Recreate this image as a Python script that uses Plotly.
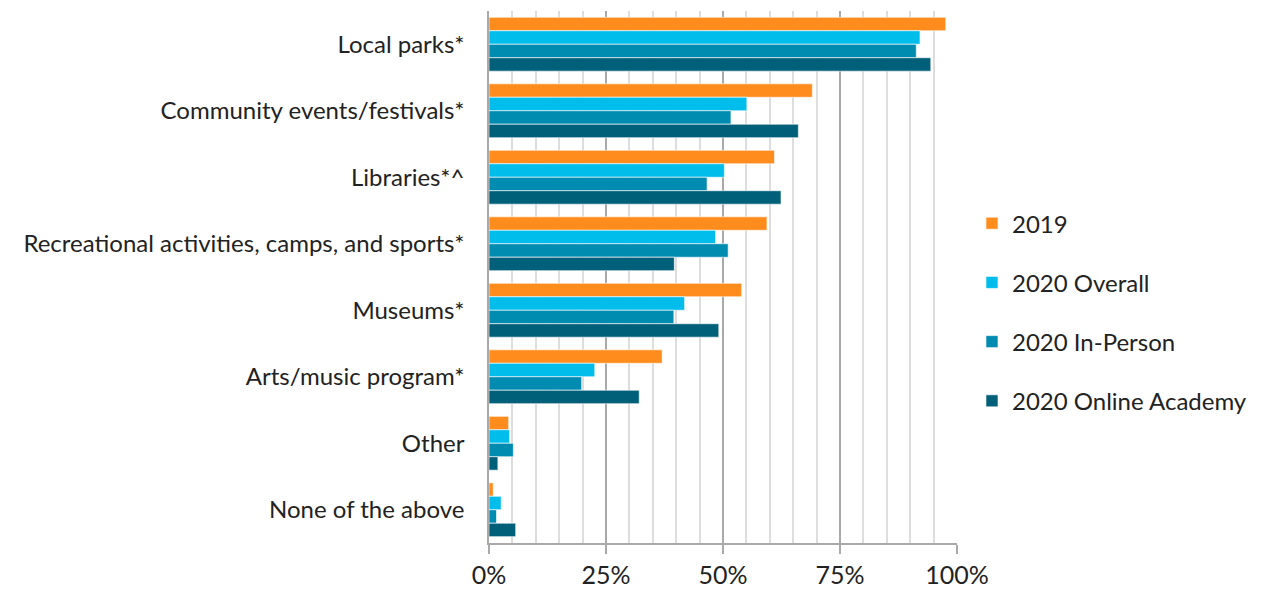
import plotly.graph_objects as go

categories = ["Local parks*", "Community events/festivals*", "Libraries*^",
              "Recreational activities, camps, and sports*", "Museums*",
              "Arts/music program*", "Other", "None of the above"]
series_names = ["2019", "2020 Overall", "2020 In-Person", "2020 Online Academy"]
v2019 = [97.6, 69.1, 61.0, 59.4, 54.0, 37.0, 4.2, 0.9]
v2020_overall = [92.1, 55.1, 50.3, 48.4, 41.8, 22.6, 4.4, 2.6]
v2020_inperson = [91.3, 51.7, 46.6, 51.1, 39.5, 19.8, 5.2, 1.6]
v2020_online = [94.4, 66.1, 62.4, 39.6, 49.1, 32.1, 1.9, 5.7]
colors = ["#FF8C1C", "#00BDEC", "#008BB1", "#005F79"]
tick_vals = [0, 25, 50, 75, 100]
tick_text = ["0%", "25%", "50%", "75%", "100%"]

FONT = "Lato, 'Gill Sans', 'DejaVu Sans', sans-serif"

fig = go.Figure()
for i, (name, vals) in enumerate(zip(series_names,
                                     [v2019, v2020_overall, v2020_inperson, v2020_online])):
    fig.add_trace(go.Bar(
        y=categories, x=vals, name=name, orientation="h",
        marker=dict(color=colors[i], line=dict(color="rgba(255,255,255,0.6)", width=1)),
        legendgroup=name,
    ))

fig.update_layout(
    width=1264, height=600,
    margin=dict(l=489, r=307, t=11, b=46),
    paper_bgcolor="white", plot_bgcolor="white",
    barmode="group", bargap=0.19, bargroupgap=0,
    font=dict(family=FONT, size=24, color="#222222"),
    legend=dict(x=1.032, xanchor="left", y=0.434, yanchor="middle",
                font=dict(size=24, color="#222222"),
                tracegroupgap=25, traceorder="grouped",
                bgcolor="rgba(0,0,0,0)"),
    xaxis=dict(range=[0, 100], tickvals=tick_vals, ticktext=tick_text,
               tickfont=dict(size=25),
               showgrid=True, gridcolor="#A9A9A9", gridwidth=1.5,
               minor=dict(dtick=5, showgrid=True, gridcolor="#DDDDDD", gridwidth=2),
               showline=True, linecolor="#A9A9A9", linewidth=1.5,
               ticks="outside", ticklen=9, tickcolor="#A9A9A9", tickwidth=1.5,
               zeroline=False, fixedrange=True),
    yaxis=dict(autorange="reversed", showline=True, linecolor="#A9A9A9", linewidth=1.5,
               ticks="", ticklabelstandoff=18, showgrid=False, fixedrange=True),
)

fig.write_html("out.html")
